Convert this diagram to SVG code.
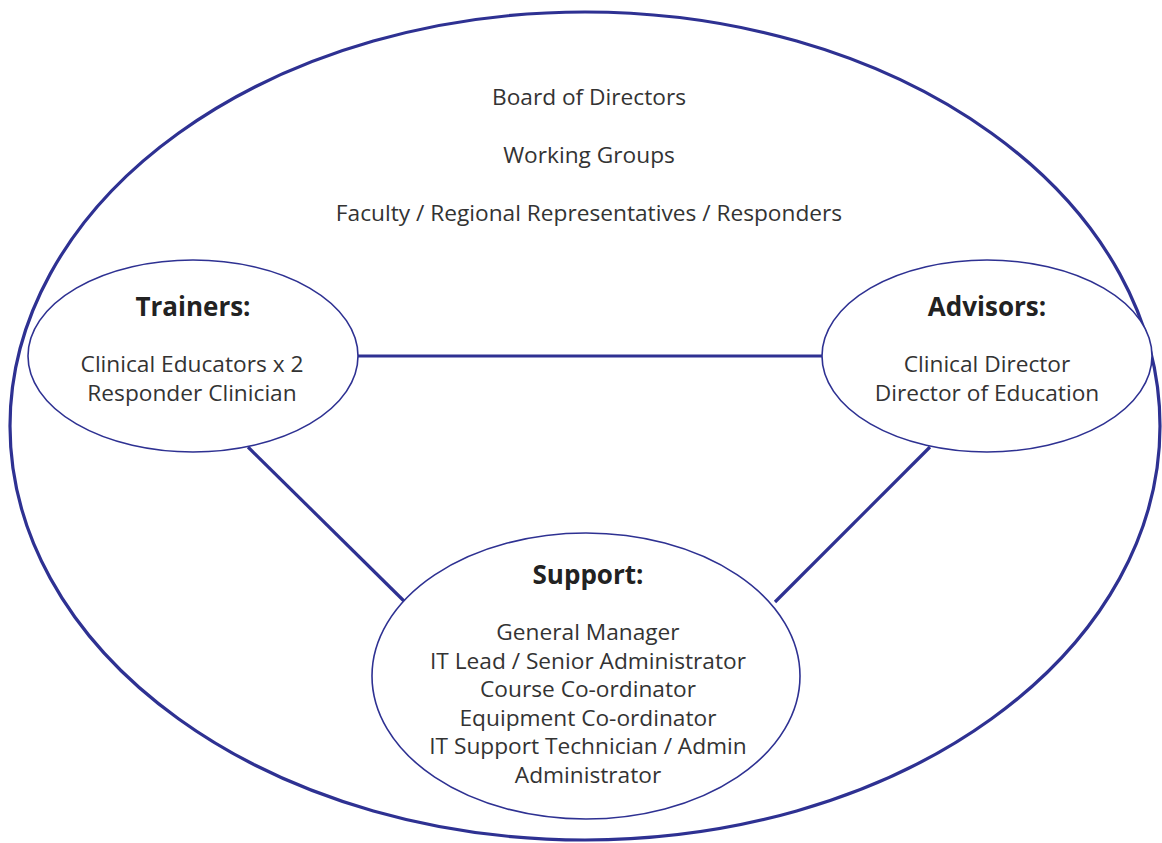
<svg xmlns="http://www.w3.org/2000/svg" width="1162" height="843" viewBox="0 0 1162 843">
  <style>
    .outer { fill: none; stroke: #2e3192; stroke-width: 3.2; }
    .node { fill: #ffffff; stroke: #2e3192; stroke-width: 1.6; }
    .link { stroke: #2e3192; stroke-width: 3.2; fill: none; }
    text { font-family: "Open Sans", "Noto Sans", "Liberation Sans", sans-serif; text-anchor: middle; }
    .body { font-size: 22.7px; fill: #333333; }
    .head { font-size: 26px; font-weight: bold; fill: #222222; }
  </style>
  <rect width="1162" height="843" fill="#ffffff"/>

  <!-- organisation boundary -->
  <g id="organisation">
    <ellipse class="outer" cx="585" cy="426" rx="575" ry="414"/>
    <text class="body" x="589" y="105">Board of Directors</text>
    <text class="body" x="589" y="163">Working Groups</text>
    <text class="body" x="589" y="221">Faculty / Regional Representatives / Responders</text>
  </g>

  <!-- links between the three groups -->
  <g id="connectors">
    <line class="link" x1="358" y1="356" x2="823" y2="356"/>
    <line class="link" x1="248" y1="447" x2="405" y2="602"/>
    <line class="link" x1="930" y1="447" x2="775" y2="602"/>
  </g>

  <g id="trainers">
    <ellipse class="node" cx="193" cy="356" rx="165" ry="96"/>
    <text class="head" x="193" y="316">Trainers:</text>
    <text class="body" x="192" y="372">Clinical Educators x 2</text>
    <text class="body" x="192" y="401">Responder Clinician</text>
  </g>

  <g id="advisors">
    <ellipse class="node" cx="987" cy="356" rx="165" ry="96"/>
    <text class="head" x="987" y="316">Advisors:</text>
    <text class="body" x="987" y="372">Clinical Director</text>
    <text class="body" x="987" y="401">Director of Education</text>
  </g>

  <g id="support">
    <ellipse class="node" cx="586" cy="676" rx="214" ry="143"/>
    <text class="head" x="588" y="584">Support:</text>
    <text class="body" x="588" y="640">General Manager</text>
    <text class="body" x="588" y="669">IT Lead / Senior Administrator</text>
    <text class="body" x="588" y="697">Course Co-ordinator</text>
    <text class="body" x="588" y="726">Equipment Co-ordinator</text>
    <text class="body" x="588" y="754">IT Support Technician / Admin</text>
    <text class="body" x="588" y="783">Administrator</text>
  </g>
</svg>
